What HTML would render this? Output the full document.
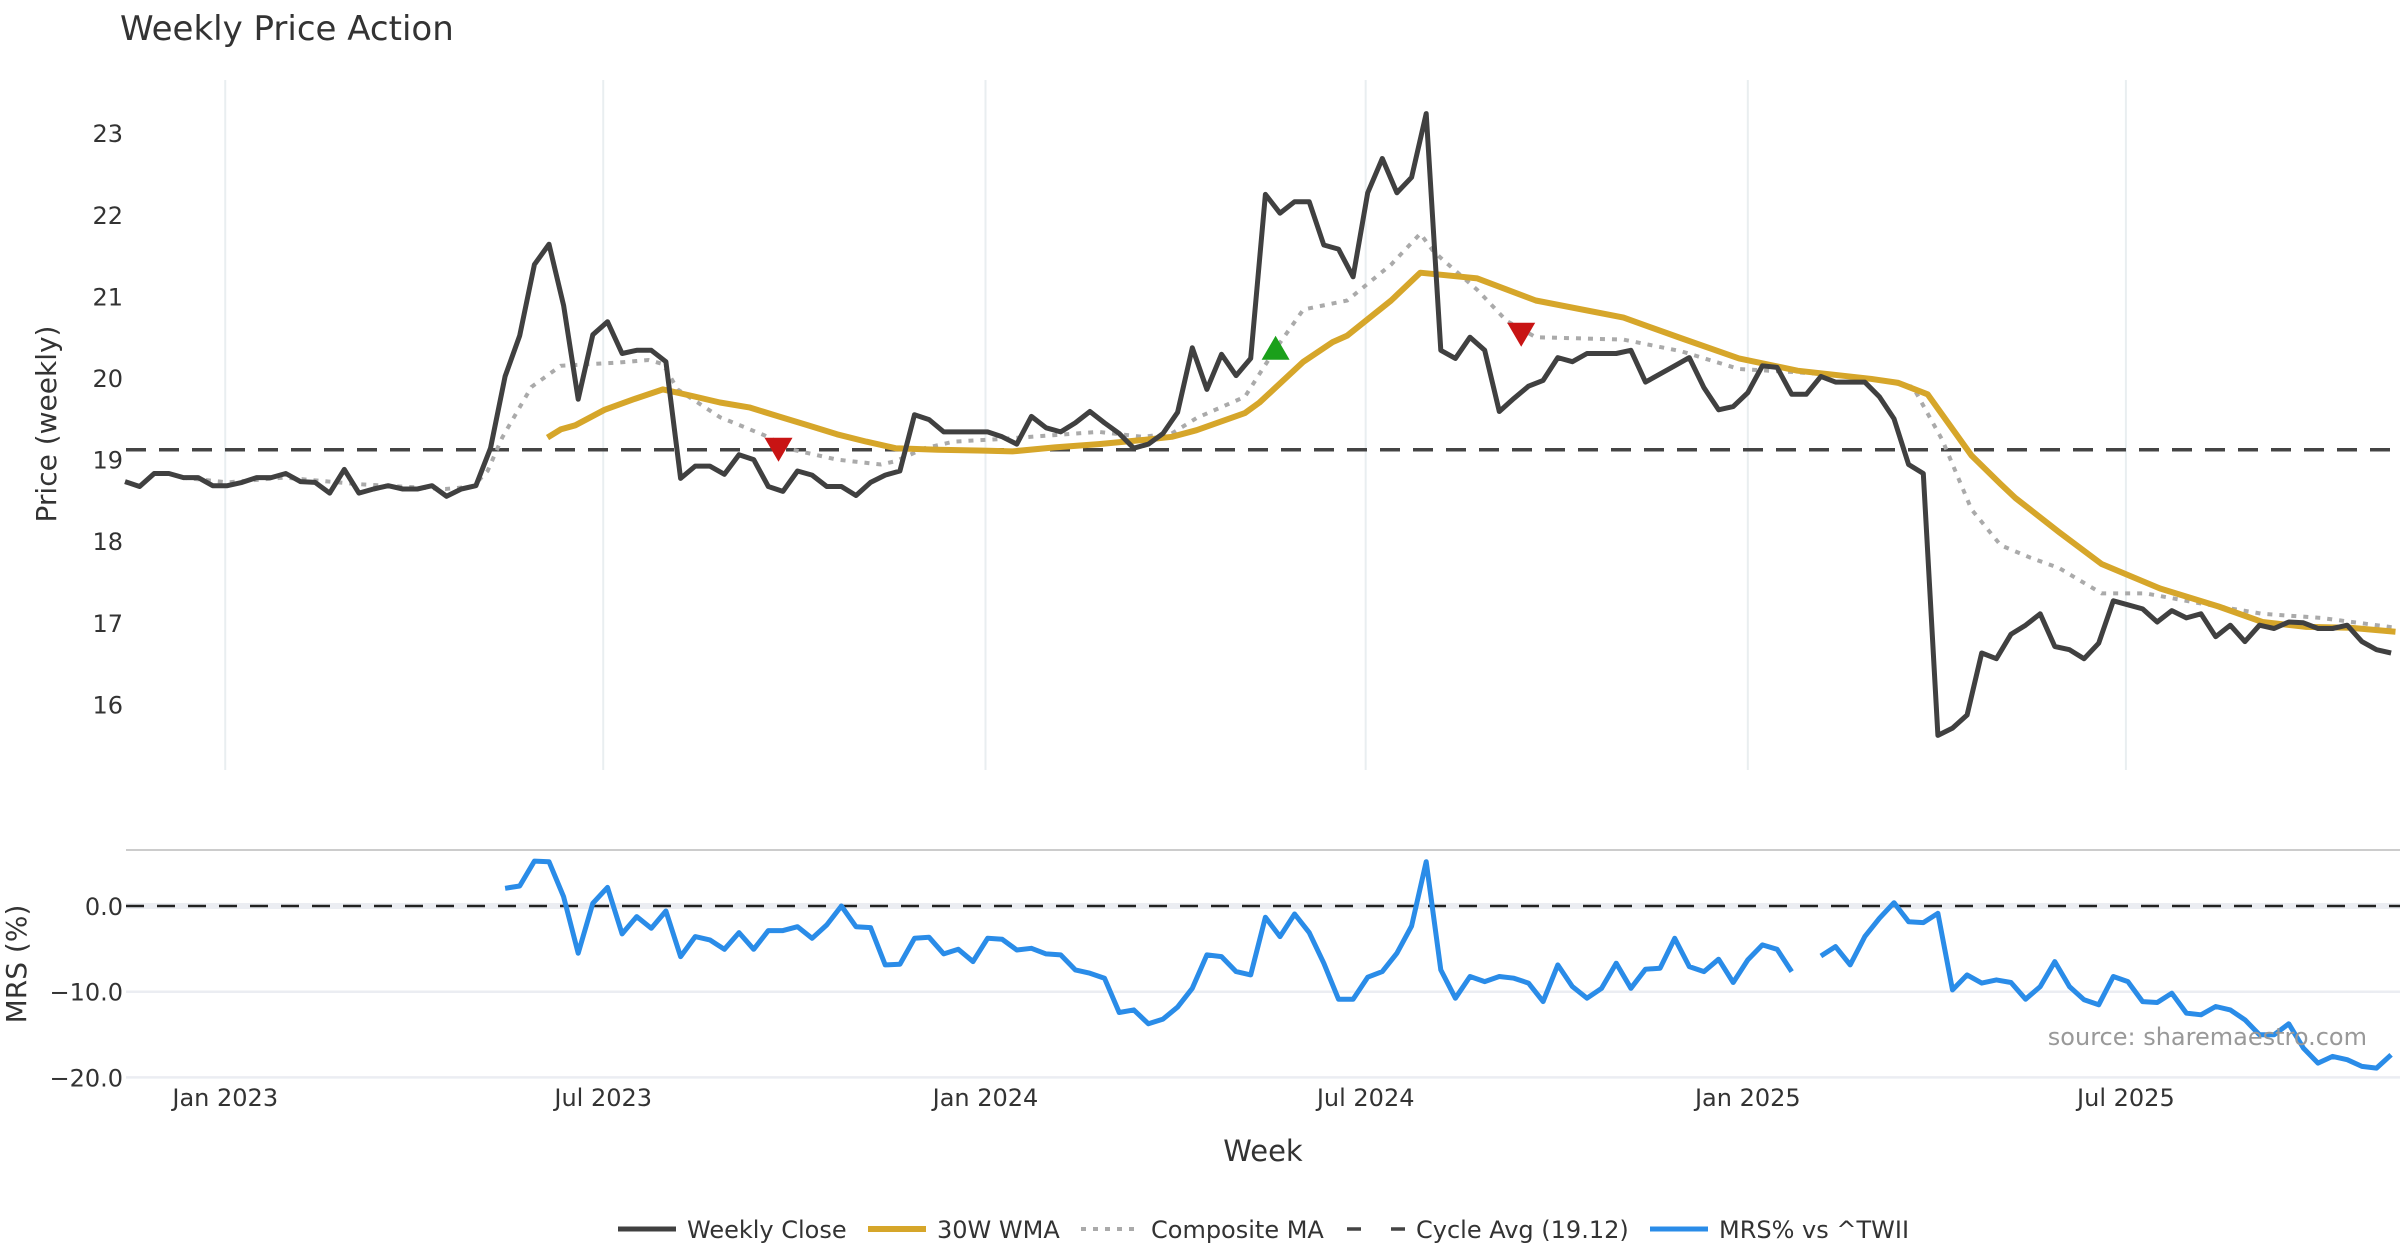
<!DOCTYPE html>
<html><head><meta charset="utf-8"><style>
html,body{margin:0;padding:0;background:#fff;}
svg{display:block;font-family:"DejaVu Sans","Liberation Sans",sans-serif;}
</style></head><body>
<svg id="chart" width="2400" height="1260" viewBox="0 0 2400 1260">
<text x="120" y="40" font-size="34" fill="#333">Weekly Price Action</text>
<g id="grid"></g>
<g id="series"></g>
<g id="axes"></g>
</svg>
<script>
const closeValues=[18.73,18.67,18.83,18.83,18.78,18.78,18.68,18.68,18.72,18.78,18.78,18.83,18.73,18.72,18.59,18.88,18.59,18.64,18.68,18.64,18.64,18.68,18.55,18.64,18.68,19.14,20.02,20.52,21.39,21.64,20.89,19.74,20.53,20.69,20.30,20.34,20.34,20.20,18.77,18.92,18.92,18.82,19.06,19.0,18.67,18.61,18.86,18.81,18.67,18.67,18.56,18.72,18.81,18.86,19.55,19.49,19.34,19.34,19.34,19.34,19.28,19.19,19.53,19.39,19.34,19.45,19.59,19.45,19.32,19.14,19.19,19.32,19.58,20.37,19.86,
20.29,20.03,20.24,22.25,22.02,22.16,22.16,21.63,21.58,21.24,22.27,22.69,22.27,22.46,23.24,20.34,20.24,20.50,20.34,19.59,19.75,19.90,19.97,20.25,20.20,20.30,20.30,20.30,20.34,19.95,20.05,20.15,20.25,19.88,19.61,19.65,19.82,20.15,20.13,19.80,19.80,20.02,19.95,19.95,19.95,19.77,19.50,18.94,18.83,15.62,15.71,15.87,16.63,16.56,16.86,16.97,17.11,16.71,16.67,16.56,16.75,17.27,17.22,17.17,17.01,17.15,17.06,17.11,16.83,16.97,16.77,16.97,16.93,17.01,17.0,16.93,16.93,16.97,16.77,16.67,16.63];
const wmaWeeks=[28.9,29.8,30.8,32.8,34.8,36.8,38.8,40.7,42.7,44.7,46.7,48.7,50.7,52.7,55.6,58.7,60.7,63.6,66.6,69.6,71.6,73.3,76.6,77.6,80.6,82.6,83.6,86.6,88.6,92.5,96.5,102.5,106.4,110.4,114.4,119.4,121.3,123.3,126.3,128.3,129.3,132.3,135.2,139.2,143.2,146.2,149.2,152.2,155.3];
const wmaValues=[19.27,19.37,19.42,19.61,19.74,19.86,19.78,19.70,19.64,19.53,19.42,19.31,19.22,19.14,19.12,19.11,19.10,19.15,19.19,19.24,19.28,19.36,19.57,19.70,20.20,20.44,20.52,20.95,21.29,21.22,20.95,20.74,20.49,20.24,20.09,19.99,19.94,19.80,19.05,18.70,18.53,18.11,17.72,17.42,17.20,17.01,16.95,16.94,16.89];
const compWeeks=[3.9,7,10.9,15.9,21.9,23.8,24.8,25.8,27.8,29.8,31.8,33.8,35.8,36.8,37.8,40.7,43.7,45.7,48.7,51.7,52.7,54.7,56.7,59.7,63.6,66.6,69.6,71.6,73.3,76.6,78.6,80.6,83.6,86.6,88.6,89.5,92.5,94.5,96.5,102.5,106.4,110.4,114.4,119.4,122.3,124.3,126.3,128.3,130.3,132.3,135.2,138.2,142.2,146.2,150.2,155.3];
const compValues=[18.78,18.72,18.78,18.70,18.64,18.67,18.86,19.27,19.89,20.15,20.17,20.19,20.22,20.17,19.86,19.52,19.30,19.12,19.0,18.94,18.98,19.14,19.22,19.25,19.30,19.34,19.28,19.32,19.51,19.77,20.33,20.84,20.95,21.39,21.77,21.55,21.08,20.70,20.50,20.47,20.33,20.11,20.07,20.0,19.89,19.24,18.39,17.95,17.80,17.67,17.36,17.36,17.23,17.11,17.06,16.94];
const mrsValues=[null,null,null,null,null,null,null,null,null,null,null,null,null,null,null,null,null,null,null,null,null,null,null,null,null,null,
2.06,2.33,5.24,5.17,1.09,-5.51,0.31,2.17,-3.26,-1.24,-2.6,-0.58,-5.9,-3.57,-3.96,-5.05,-3.1,-5.05,-2.87,-2.87,-2.41,-3.77,-2.21,0,-2.41,-2.52,-6.87,-6.8,-3.77,-3.65,-5.59,-5.05,-6.49,-3.77,-3.88,-5.13,-4.93,-5.59,-5.71,-7.46,-7.84,-8.43,-12.43,-12.12,-13.75,-13.2,-11.8,-9.6,-5.71,-5.9,-7.65,-8.04,-1.32,-3.57,-0.93,-3.1,-6.68,-10.87,-10.87,-8.31,-7.65,-5.51,-2.33,5.17,-7.46,-10.76,-8.23,-8.82,-8.23,-8.43,-9.0,-11.15,-6.87,-9.4,-10.76,-9.6,-6.68,-9.6,-7.38,-7.26,-3.77,-7.07,-7.65,-6.21,-8.93,-6.29,-4.54,-5.05,-7.65,
null,-5.83,-4.74,-6.87,-3.57,-1.44,0.39,-1.83,-1.94,-0.85,-9.79,-8.04,-9.0,-8.62,-8.93,-10.87,-9.4,-6.49,-9.4,-10.95,-11.53,-8.23,-8.82,-11.15,-11.26,-10.17,-12.5,-12.7,-11.73,-12.12,-13.28,-15.03,-15.03,-13.75,-16.58,-18.33,-17.55,-17.94,-18.72,-18.91,-17.36];
const cycleAvg=19.12;
const signalWeeks=[44.7,78.7,95.5];
const signalPrices=[19.12,20.37,20.53];
const signalTypes=['sell','buy','sell'];
const priceTicks=[16,17,18,19,20,21,22,23];
const mrsTicks=[0,-10,-20];
const mrsTickLabels=['0.0','\u221210.0','\u221220.0'];
const dateTickWeeks=[6.857,32.71,58.857,84.86,111.0,136.86];
const dateTickLabels=['Jan 2023','Jul 2023','Jan 2024','Jul 2024','Jan 2025','Jul 2025'];

const NS='http://www.w3.org/2000/svg';
function X(i){return 125+14.62*i;}
function YP(v){return 133.2+(23-v)*81.6;}
function YM(v){return 906-v*8.57;}
function mk(tag,attrs,parent){const e=document.createElementNS(NS,tag);for(const k in attrs)e.setAttribute(k,attrs[k]);parent.appendChild(e);return e;}
const grid=document.getElementById('grid'),series=document.getElementById('series'),axes=document.getElementById('axes');
const L=126,R=2400;
dateTickWeeks.forEach((w,k)=>{
 const g=mk('line',{x1:X(w),x2:X(w),y1:80,y2:770,stroke:'#e9eef0','stroke-width':2},grid);
 
 
 const t=mk('text',{x:X(w),y:1106,'font-size':24,fill:'#333','text-anchor':'middle'},axes);
 t.textContent=dateTickLabels[k];
 
 
});
priceTicks.forEach(v=>{
 const t=mk('text',{x:123,y:YP(v)+9,'font-size':24,fill:'#333','text-anchor':'end'},axes);
 t.textContent=String(v);
 
 
});
const border=mk('line',{x1:L,x2:R,y1:850,y2:850,stroke:'#cccccc','stroke-width':2},grid);


mrsTicks.forEach((v,k)=>{
 const g=mk('line',{x1:L,x2:R,y1:YM(v),y2:YM(v),stroke:'#ebedf2','stroke-width':v===0?6:2.5},grid);
 
 
 const t=mk('text',{x:123,y:YM(v)+9,'font-size':24,fill:'#333','text-anchor':'end'},axes);
 t.textContent=mrsTickLabels[k];
 
 
});
const zl=mk('line',{x1:L,x2:R,y1:YM(0),y2:YM(0),stroke:'#222','stroke-width':2.5,'stroke-dasharray':'18 13'},series);


const cl=mk('line',{x1:L,x2:R,y1:YP(cycleAvg),y2:YP(cycleAvg),stroke:'#444','stroke-width':3.5,'stroke-dasharray':'20 13'},series);


function pathFrom(xs,ys,fy){let d='',pen=false;for(let i=0;i<ys.length;i++){if(ys[i]===null){pen=false;continue;}d+=(pen?'L':'M')+X(xs[i]).toFixed(1)+','+fy(ys[i]).toFixed(1);pen=true;}return d;}
const idx=closeValues.map((_,i)=>i);
const cp=mk('path',{d:pathFrom(compWeeks,compValues,YP),fill:'none',stroke:'#aaaaaa','stroke-width':4,'stroke-dasharray':'5 7'},series);


const wp=mk('path',{d:pathFrom(wmaWeeks,wmaValues,YP),fill:'none',stroke:'#d6a62a','stroke-width':6,'stroke-linejoin':'round'},series);


const clp=mk('path',{d:pathFrom(idx,closeValues,YP),fill:'none',stroke:'#404040','stroke-width':5,'stroke-linejoin':'round'},series);


const mp=mk('path',{d:pathFrom(mrsValues.map((_,i)=>i),mrsValues,YM),fill:'none',stroke:'#2a8ce8','stroke-width':5,'stroke-linejoin':'round'},series);


signalWeeks.forEach((w,k)=>{
 const x=X(w),y=YP(signalPrices[k]),s=14;
 const pts=signalTypes[k]==='buy'?`${x-s},${y+12} ${x+s},${y+12} ${x},${y-12}`:`${x-s},${y-12} ${x+s},${y-12} ${x},${y+12}`;
 const p=mk('polygon',{points:pts,fill:signalTypes[k]==='buy'?'#1aa01a':'#c81414'},series);
 
 
});
</script>
<svg style="position:absolute;left:0;top:0" width="2400" height="1260">
<text transform="translate(56,424) rotate(-90)" text-anchor="middle" font-size="28" fill="#333" font-family="DejaVu Sans,sans-serif">Price (weekly)</text>
<text transform="translate(26,964) rotate(-90)" text-anchor="middle" font-size="28" fill="#333" font-family="DejaVu Sans,sans-serif">MRS (%)</text>
<text x="1263" y="1161" text-anchor="middle" font-size="29" fill="#333" font-family="DejaVu Sans,sans-serif">Week</text>
<text x="2367" y="1045" text-anchor="end" font-size="24" fill="#999" font-family="DejaVu Sans,sans-serif">source: sharemaestro.com</text>
<g font-size="24" fill="#333" font-family="DejaVu Sans,sans-serif">
<line x1="618" x2="676" y1="1229" y2="1229" stroke="#404040" stroke-width="5"/>
<text x="687" y="1238">Weekly Close</text>
<line x1="868" x2="926" y1="1229" y2="1229" stroke="#d6a62a" stroke-width="6"/>
<text x="937" y="1238">30W WMA</text>
<line x1="1081" x2="1139" y1="1229" y2="1229" stroke="#aaa" stroke-width="4" stroke-dasharray="5 7"/>
<text x="1151" y="1238">Composite MA</text>
<line x1="1347" x2="1405" y1="1229" y2="1229" stroke="#444" stroke-width="3.5" stroke-dasharray="14 30"/>
<text x="1416" y="1238">Cycle Avg (19.12)</text>
<line x1="1650" x2="1708" y1="1229" y2="1229" stroke="#2a8ce8" stroke-width="5"/>
<text x="1719" y="1238">MRS% vs ^TWII</text>
</g>
</svg>
</body></html>
